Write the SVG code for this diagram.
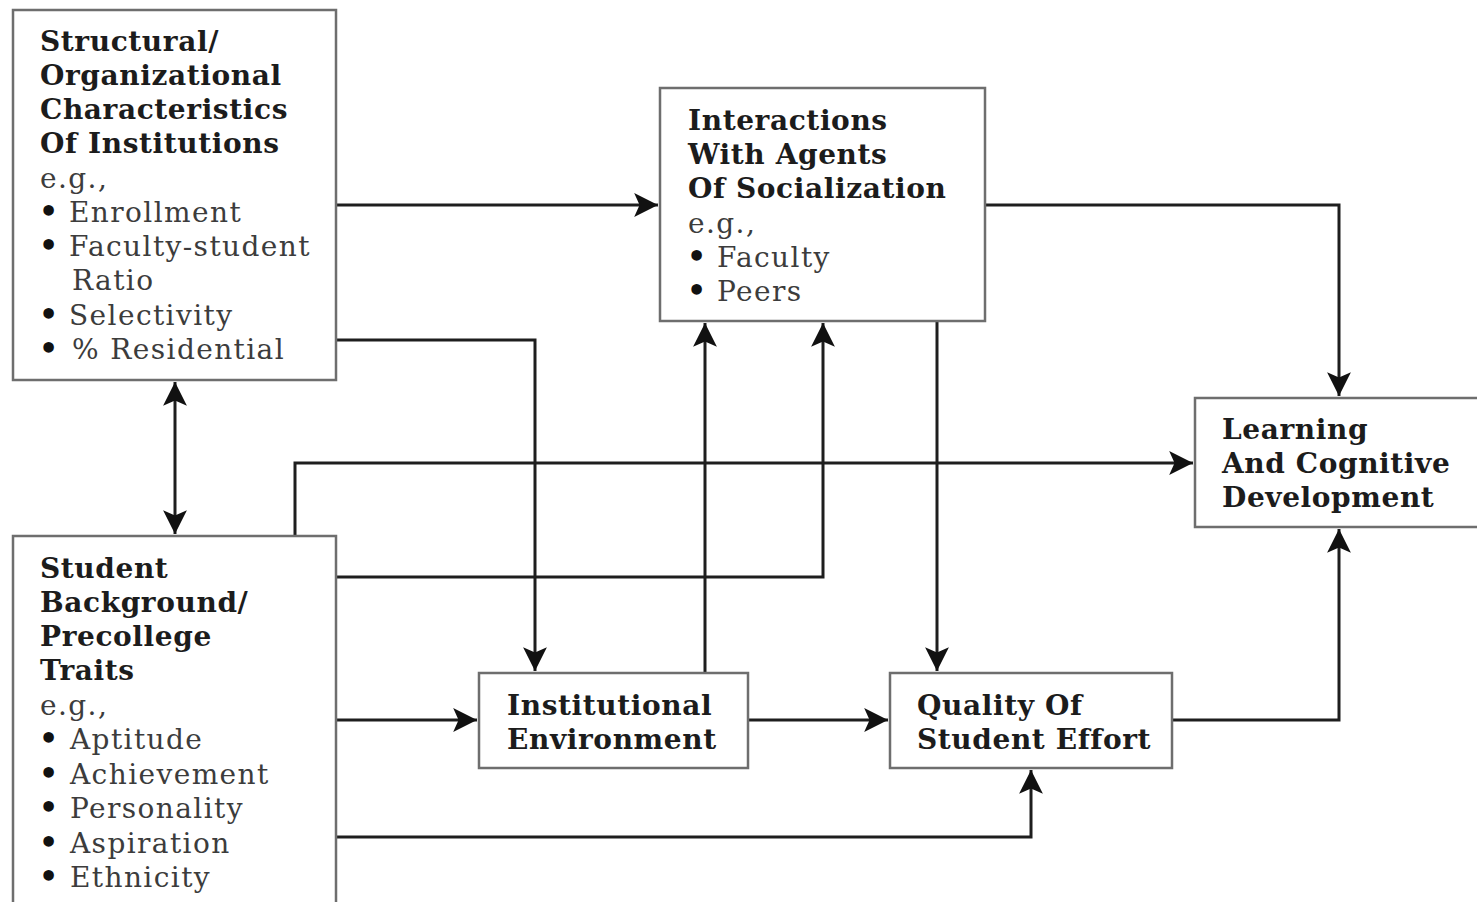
<svg xmlns="http://www.w3.org/2000/svg" width="1477" height="902" viewBox="0 0 1477 902">
  <style>
    .box { fill: #ffffff; stroke: #6e6e6e; stroke-width: 2.5; }
    .ttl { font-family: "DejaVu Serif", "Liberation Serif", serif; font-weight: bold; font-size: 28px; letter-spacing: 0.6px; fill: #1c1c1c; }
    .txt { font-family: "DejaVu Serif", "Liberation Serif", serif; font-size: 28px; letter-spacing: 1.4px; fill: #3c3c3c; }
    .dot { font-family: "DejaVu Sans", sans-serif; font-weight: bold; font-size: 30px; fill: #111111; }
    .wire { fill: none; stroke: #1e1e1e; stroke-width: 3; }
  </style>
  <defs>
    <marker id="arrow" markerUnits="userSpaceOnUse" markerWidth="26" markerHeight="26" viewBox="-22 -12 24 24" refX="0" refY="0" orient="auto-start-reverse">
      <path d="M-22,-11 L0,0 L-22,11 L-17,0 Z" fill="#111"/>
    </marker>
  </defs>
  <rect width="1477" height="902" fill="#ffffff"/>

  <!-- connectors -->
  <g id="connectors">
    <path class="wire" d="M336,205 H658" marker-end="url(#arrow)"/>
    <path class="wire" d="M336,340 H535 V671" marker-end="url(#arrow)"/>
    <path class="wire" d="M175,382 V534" marker-start="url(#arrow)" marker-end="url(#arrow)"/>
    <path class="wire" d="M295,536 V463 H1193" marker-end="url(#arrow)"/>
    <path class="wire" d="M336,577 H823 V323" marker-end="url(#arrow)"/>
    <path class="wire" d="M336,720 H477" marker-end="url(#arrow)"/>
    <path class="wire" d="M336,837 H1031 V770" marker-end="url(#arrow)"/>
    <path class="wire" d="M705,673 V323" marker-end="url(#arrow)"/>
    <path class="wire" d="M937,321 V671" marker-end="url(#arrow)"/>
    <path class="wire" d="M748,720 H888" marker-end="url(#arrow)"/>
    <path class="wire" d="M1172,720 H1339 V529" marker-end="url(#arrow)"/>
    <path class="wire" d="M985,205 H1339 V396" marker-end="url(#arrow)"/>
  </g>

  <!-- Structural / organizational characteristics -->
  <g id="structural">
    <rect class="box" x="13" y="10" width="323" height="370"/>
    <text class="ttl" x="40" y="51">Structural/</text>
    <text class="ttl" x="40" y="85">Organizational</text>
    <text class="ttl" x="40" y="119">Characteristics</text>
    <text class="ttl" x="40" y="153">Of Institutions</text>
    <text class="txt" x="40" y="188">e.g.,</text>
    <text class="dot" x="39" y="222">•</text><text class="txt" x="69" y="222">Enrollment</text>
    <text class="dot" x="39" y="256">•</text><text class="txt" x="69" y="256">Faculty-student</text>
    <text class="txt" x="72" y="290">Ratio</text>
    <text class="dot" x="39" y="325">•</text><text class="txt" x="69" y="325">Selectivity</text>
    <text class="dot" x="39" y="359">•</text><text class="txt" x="72" y="359">% Residential</text>
  </g>

  <!-- Interactions with agents of socialization -->
  <g id="interactions">
    <rect class="box" x="660" y="88" width="325" height="233"/>
    <text class="ttl" x="688" y="130">Interactions</text>
    <text class="ttl" x="688" y="164">With Agents</text>
    <text class="ttl" x="688" y="198">Of Socialization</text>
    <text class="txt" x="688" y="233">e.g.,</text>
    <text class="dot" x="687" y="267">•</text><text class="txt" x="717" y="267">Faculty</text>
    <text class="dot" x="687" y="301">•</text><text class="txt" x="717" y="301">Peers</text>
  </g>

  <!-- Learning and cognitive development -->
  <g id="learning">
    <rect class="box" x="1195" y="398" width="284" height="129"/>
    <text class="ttl" x="1222" y="439">Learning</text>
    <text class="ttl" x="1222" y="473">And Cognitive</text>
    <text class="ttl" x="1222" y="507">Development</text>
  </g>

  <!-- Student background / precollege traits -->
  <g id="student">
    <rect class="box" x="13" y="536" width="323" height="380"/>
    <text class="ttl" x="40" y="578">Student</text>
    <text class="ttl" x="40" y="612">Background/</text>
    <text class="ttl" x="40" y="646">Precollege</text>
    <text class="ttl" x="40" y="680">Traits</text>
    <text class="txt" x="40" y="715">e.g.,</text>
    <text class="dot" x="39" y="749">•</text><text class="txt" x="70" y="749">Aptitude</text>
    <text class="dot" x="39" y="784">•</text><text class="txt" x="70" y="784">Achievement</text>
    <text class="dot" x="39" y="818">•</text><text class="txt" x="70" y="818">Personality</text>
    <text class="dot" x="39" y="853">•</text><text class="txt" x="70" y="853">Aspiration</text>
    <text class="dot" x="39" y="887">•</text><text class="txt" x="70" y="887">Ethnicity</text>
  </g>

  <!-- Institutional environment -->
  <g id="environment">
    <rect class="box" x="479" y="673" width="269" height="95"/>
    <text class="ttl" x="507" y="715">Institutional</text>
    <text class="ttl" x="507" y="749">Environment</text>
  </g>

  <!-- Quality of student effort -->
  <g id="effort">
    <rect class="box" x="890" y="673" width="282" height="95"/>
    <text class="ttl" x="917" y="715">Quality Of</text>
    <text class="ttl" x="917" y="749">Student Effort</text>
  </g>
</svg>
